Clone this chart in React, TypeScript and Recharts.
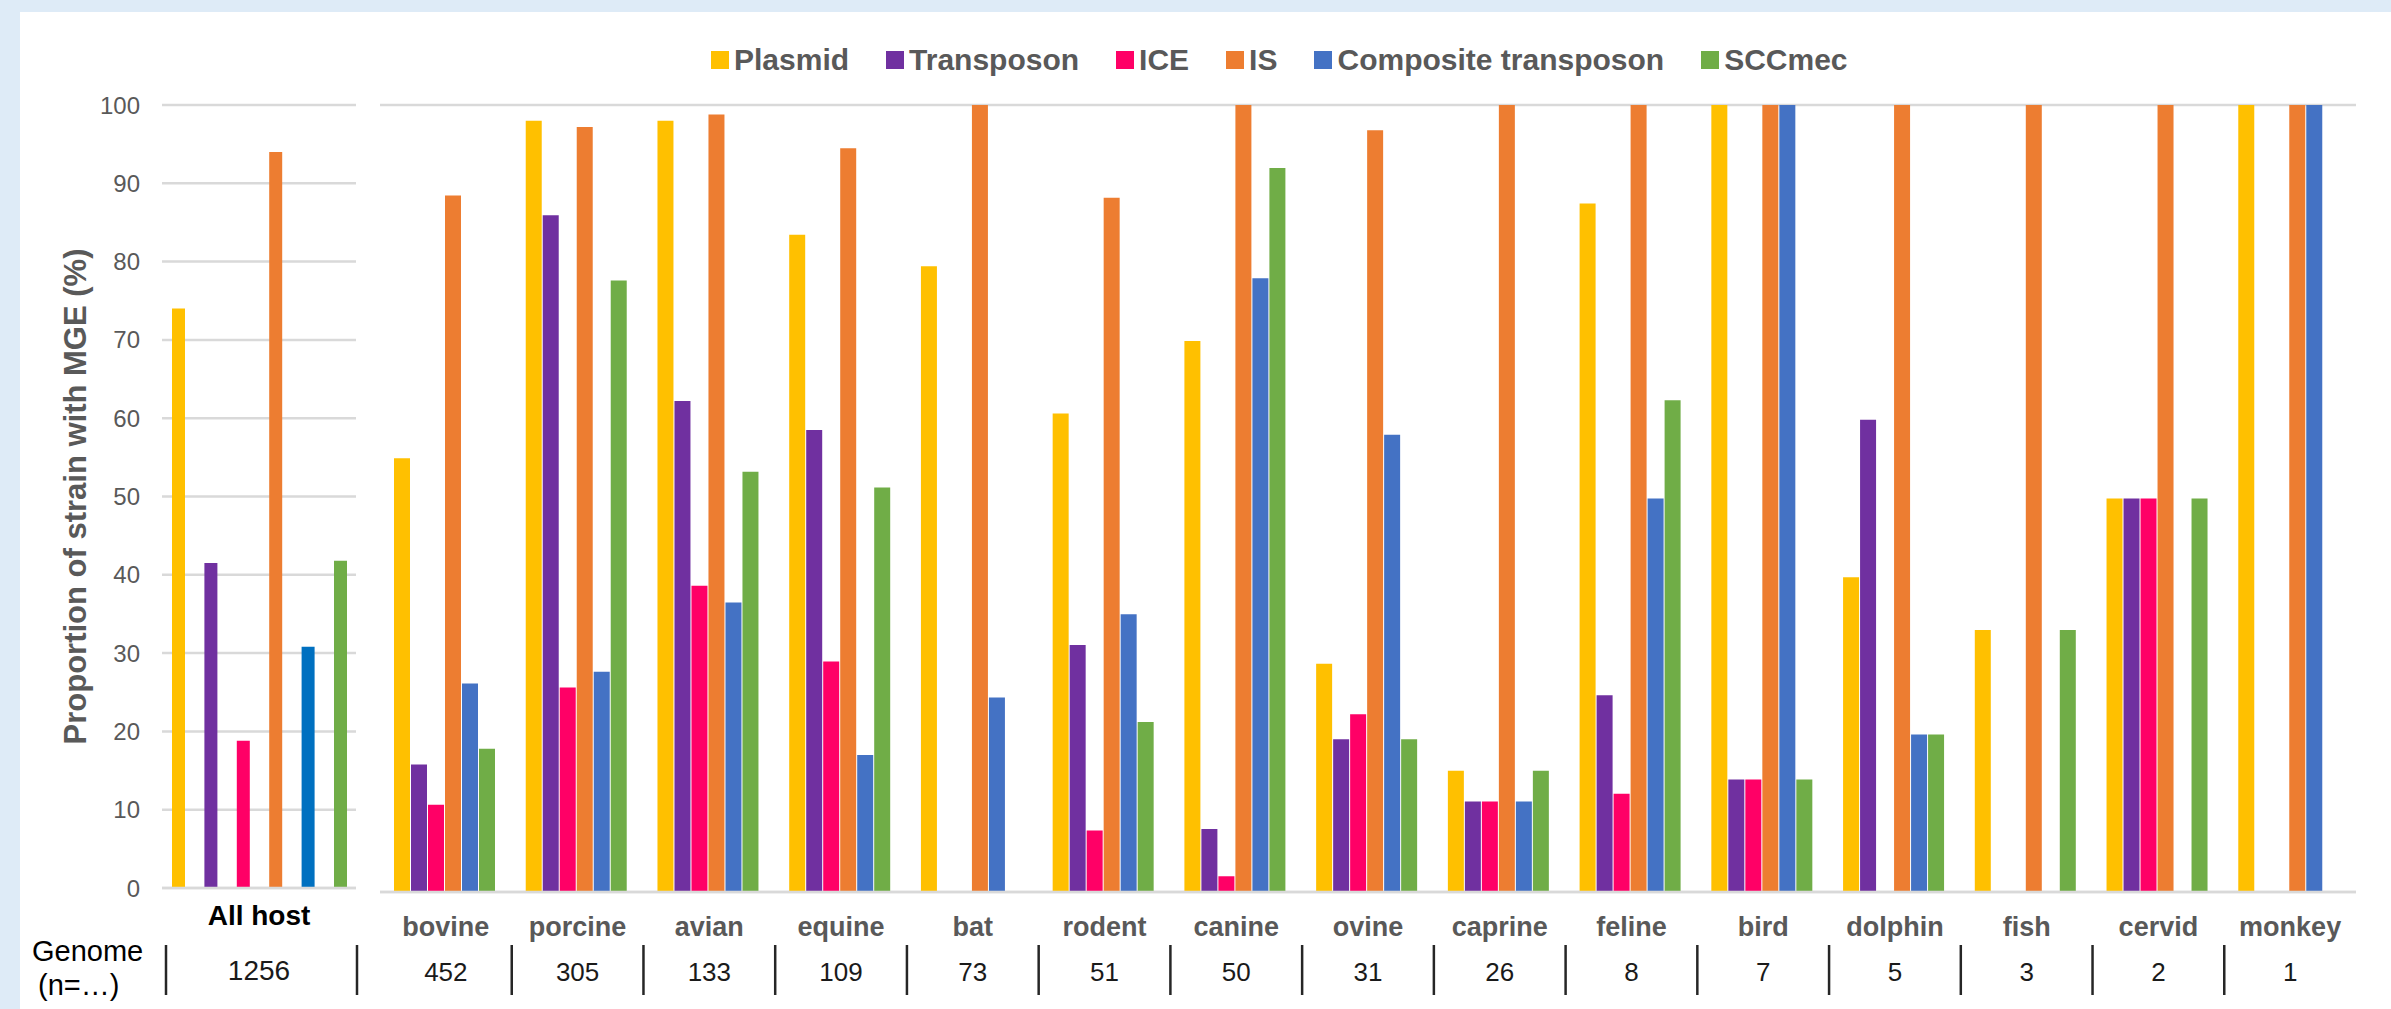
import React from 'react'
import { BarChart, Bar, XAxis, YAxis, CartesianGrid, Legend } from 'recharts'

// series (MGE types)
const seriesNames = ['Plasmid', 'Transposon', 'ICE', 'IS', 'Composite transposon', 'SCCmec']
const seriesKeys = ['plasmid', 'transposon', 'ice', 'is', 'composite', 'sccmec']
const seriesColors = ['#FFC000', '#7030A0', '#FF0066', '#ED7D31', '#4472C4', '#70AD47']
const allHostColors = ['#FFC000', '#7030A0', '#FF0066', '#ED7D31', '#0070C0', '#70AD47']

// hosts and genome counts
const hosts = ['bovine', 'porcine', 'avian', 'equine', 'bat', 'rodent', 'canine', 'ovine', 'caprine', 'feline', 'bird', 'dolphin', 'fish', 'cervid', 'monkey']
const genomeCounts = [452, 305, 133, 109, 73, 51, 50, 31, 26, 8, 7, 5, 3, 2, 1]

// proportion of strains with each MGE (%)
const plasmid = [55.1, 98.0, 98.0, 83.5, 79.5, 60.8, 70.0, 29.0, 15.4, 87.5, 100, 40, 33.3, 50, 100]
const transposon = [16.2, 86.0, 62.4, 58.7, 0, 31.4, 8.0, 19.4, 11.5, 25, 14.3, 60, 0, 50, 0]
const ice = [11.1, 26.0, 38.9, 29.3, 0, 7.8, 2.0, 22.6, 11.5, 12.5, 14.3, 0, 0, 50, 0]
const is = [88.5, 97.2, 98.8, 94.5, 100, 88.2, 100, 96.8, 100, 100, 100, 100, 100, 100, 100]
const composite = [26.5, 28.0, 36.8, 17.4, 24.7, 35.3, 78.0, 58.1, 11.5, 50, 100, 20, 0, 0, 100]
const sccmec = [18.2, 77.7, 53.4, 51.4, 0, 21.6, 92.0, 19.4, 15.4, 62.5, 14.3, 20, 33.3, 50, 0]

const allHostLabel = 'All host'
const allHostGenomes = 1256
const allHostValues = [74.0, 41.5, 18.8, 94.0, 30.8, 41.8]

const yTicks = [0, 10, 20, 30, 40, 50, 60, 70, 80, 90, 100]

const seriesValues = [plasmid, transposon, ice, is, composite, sccmec]
const hostData = hosts.map((h, i) => {
  const row: any = { host: h }
  seriesKeys.forEach((k, s) => { row[k] = seriesValues[s][i] })
  return row
})
const allHostRow: any = { host: allHostLabel }
seriesKeys.forEach((k, s) => { allHostRow[k] = allHostValues[s] })
const allHostData = [allHostRow]

const FONT = '"Liberation Sans", Arial, sans-serif'
const GRID = '#D9D9D9'
const GRAY = '#595959'

const RIGHT_W = 2000
const RIGHT_MARGIN = { top: 105, right: 14, left: 10, bottom: 7 }
const band = (RIGHT_W - RIGHT_MARGIN.left - RIGHT_MARGIN.right) / hosts.length

function HostTick(props: any) {
  const { x, y, payload, index } = props
  // the table's last divider sits a bit past the plot edge
  const sepX = index === hosts.length - 1 ? x + band / 2 + 28 : x + band / 2
  return (
    <g>
      <text x={x} y={y + 44} textAnchor="middle" fontSize={27} fontWeight="bold" fill={GRAY}>{payload.value}</text>
      <text x={x} y={y + 89} textAnchor="middle" fontSize={26} fill="#1a1a1a">{genomeCounts[index]}</text>
      <line x1={sepX} x2={sepX} y1={y + 53} y2={y + 103} stroke="#262626" strokeWidth={2.5} />
    </g>
  )
}

function AllHostTick(props: any) {
  const { x, y, payload } = props
  return (
    <g>
      <text x={x} y={y + 37} textAnchor="middle" fontSize={28} fontWeight="bold" fill="#000">{payload.value}</text>
      <text x={x} y={y + 92} textAnchor="middle" fontSize={28} fill="#1a1a1a">{allHostGenomes}</text>
      <line x1={x - 93} x2={x - 93} y1={y + 57} y2={y + 107} stroke="#262626" strokeWidth={2.5} />
      <line x1={x + 98} x2={x + 98} y1={y + 57} y2={y + 107} stroke="#262626" strokeWidth={2.5} />
    </g>
  )
}

function YTitle(props: any) {
  const { viewBox } = props
  const cx = viewBox.x + 75
  const cy = viewBox.y + viewBox.height / 2
  return (
    <text x={cx} y={cy} transform={`rotate(-90 ${cx} ${cy})`} textAnchor="middle" dominantBaseline="central"
      fontSize={31} fontWeight="bold" fill={GRAY}>
      Proportion of strain with MGE (%)
    </text>
  )
}

function renderLegend(props: any) {
  const items = [...(props.payload || [])].sort(
    (a: any, b: any) => seriesNames.indexOf(a.value) - seriesNames.indexOf(b.value)
  )
  return (
    <div style={{ display: 'flex', alignItems: 'center', whiteSpace: 'nowrap' }}>
      {items.map((entry: any, i: number) => (
        <div key={i} style={{ display: 'flex', alignItems: 'center', marginRight: 37 }}>
          <div style={{ width: 18, height: 18, background: entry.color, marginRight: 5 }} />
          <span style={{ fontSize: 30, fontWeight: 'bold', color: GRAY, lineHeight: '30px' }}>{entry.value}</span>
        </div>
      ))}
    </div>
  )
}

export default function App() {
  return (
    <div style={{ position: 'absolute', left: 0, top: 0, width: 2391, height: 1009, background: '#DEEBF7', fontFamily: FONT, overflow: 'hidden' }}>
      <div style={{ position: 'absolute', left: 20, top: 12, right: 0, bottom: 0, background: '#fff' }} />

      {/* All host panel */}
      <div style={{ position: 'absolute', left: 0, top: 0 }}>
        <BarChart width={370} height={1009} data={allHostData} margin={{ top: 105, right: 14, left: 0, bottom: 7 }}
          barSize={13} barGap={19.4}>
          <CartesianGrid vertical={false} stroke={GRID} strokeWidth={2.5} />
          <XAxis dataKey="host" height={114} tickSize={0} tickMargin={0} interval={0}
            axisLine={{ stroke: GRID, strokeWidth: 2.5 }} tickLine={false} tick={<AllHostTick />} />
          <YAxis domain={[0, 100]} ticks={yTicks} width={162} tickSize={6} tickMargin={16}
            axisLine={false} tickLine={false} tick={{ fontSize: 24, fill: GRAY }} label={<YTitle />} />
          {seriesKeys.map((k, s) => (
            <Bar key={k} dataKey={k} name={seriesNames[s]} fill={allHostColors[s]} isAnimationActive={false} />
          ))}
        </BarChart>
      </div>

      {/* hosts panel */}
      <div style={{ position: 'absolute', left: 370, top: 0 }}>
        <BarChart width={RIGHT_W} height={1009} data={hostData} margin={RIGHT_MARGIN}
          barCategoryGap={14} barGap={1}>
          <CartesianGrid vertical={false} stroke={GRID} strokeWidth={2.5} />
          <XAxis dataKey="host" height={110} tickSize={0} tickMargin={0} interval={0}
            axisLine={{ stroke: GRID, strokeWidth: 2.5 }} tickLine={false} tick={<HostTick />} />
          <YAxis domain={[0, 100]} ticks={yTicks} width={0} axisLine={false} tickLine={false} tick={false} />
          <Legend layout="horizontal" verticalAlign="middle" align="center" content={renderLegend}
            wrapperStyle={{ top: 45, left: 341, width: 'auto', height: 30 }} />
          {seriesKeys.map((k, s) => (
            <Bar key={k} dataKey={k} name={seriesNames[s]} fill={seriesColors[s]} isAnimationActive={false} />
          ))}
        </BarChart>
      </div>

      {/* table row header */}
      <div style={{ position: 'absolute', left: 32, top: 934, fontSize: 29, color: '#000', lineHeight: '34px' }}>
        <div>Genome</div>
        <div style={{ paddingLeft: 6 }}>(n=…)</div>
      </div>
    </div>
  )
}
